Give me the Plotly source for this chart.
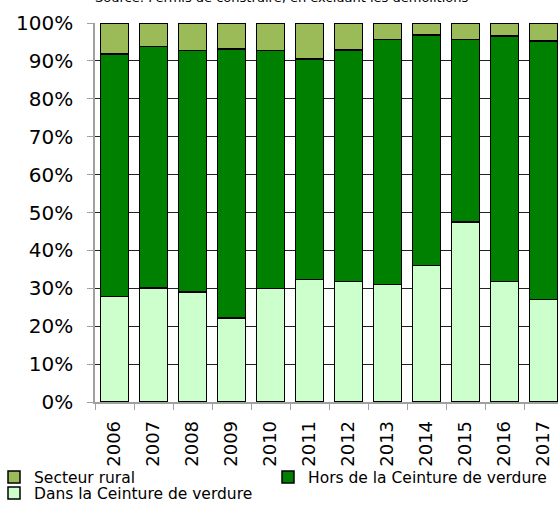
import plotly.graph_objects as go

years = ["2006", "2007", "2008", "2009", "2010", "2011", "2012", "2013", "2014", "2015", "2016", "2017"]
dans = [27.9, 30.1, 29.0, 22.2, 30.0, 32.3, 31.8, 31.0, 36.0, 47.5, 31.8, 27.0]
hors = [63.9, 63.7, 63.7, 70.9, 62.8, 58.2, 61.1, 64.6, 60.8, 48.1, 64.8, 68.2]
rural = [8.2, 6.2, 7.3, 6.9, 7.2, 9.5, 7.1, 4.4, 3.2, 4.4, 3.4, 4.8]

names = ["Dans la Ceinture de verdure", "Hors de la Ceinture de verdure", "Secteur rural"]
colors = ["#CCFFCC", "#008000", "#9BBB59"]
legend_ids = ["legend2", "legend3", "legend"]
title_text = "Source: Permis de construire, en excluant les démolitions"

FONT = "DejaVu Sans"
W, H = 558, 506
left, top, plot_bottom = 95, 23.3, 401.7
plot_w = W - left
plot_h = plot_bottom - top
cat_px = 39  # pixel width of one category slot

fig = go.Figure()
for vals, name, col, lg in zip([dans, hors, rural], names, colors, legend_ids):
    fig.add_trace(go.Bar(
        x=years, y=vals, name=name, legend=lg,
        marker=dict(color=col, line=dict(color="black", width=1.5)),
    ))

legend_common = dict(
    orientation="h",
    xref="paper", yref="paper",
    xanchor="left", yanchor="middle",
    font=dict(size=15.5, family=FONT),
    itemwidth=30, tracegroupgap=0,
    bgcolor="rgba(0,0,0,0)",
)

fig.update_layout(
    width=W, height=H,
    barmode="stack", bargap=0.28,
    margin=dict(l=left, r=0, t=top, b=H - plot_bottom, pad=0, autoexpand=False),
    plot_bgcolor="white", paper_bgcolor="white",
    font=dict(family=FONT, color="black"),
    showlegend=True,
    legend=dict(legend_common, x=(-6 - left) / plot_w, y=(plot_bottom - 477) / plot_h),
    legend2=dict(legend_common, x=(-6 - left) / plot_w, y=(plot_bottom - 493) / plot_h),
    legend3=dict(legend_common, x=(268 - left) / plot_w, y=(plot_bottom - 477) / plot_h),
    annotations=[dict(
        text=title_text, xref="paper", yref="paper",
        x=(281 - left) / plot_w, y=1, yshift=top + 2.5,
        xanchor="center", yanchor="middle", showarrow=False,
        font=dict(size=13, family=FONT, color="black"),
    )],
)

fig.update_xaxes(
    type="category", range=[-0.5, -0.5 + plot_w / cat_px],
    tickangle=-90, tickfont=dict(size=18, family=FONT),
    showline=True, linecolor="#a0a0a0", linewidth=1.5,
    ticks="outside", tickson="boundaries", ticklen=6, tickcolor="#a0a0a0",
    ticklabelstandoff=10,
    showgrid=False,
)
fig.update_yaxes(
    range=[0, 100], dtick=10, ticksuffix="%",
    tickfont=dict(size=20, family=FONT),
    showline=True, linecolor="#a0a0a0", linewidth=1.5,
    ticks="outside", ticklen=6, tickcolor="#a0a0a0",
    ticklabelstandoff=10,
    showgrid=True, gridcolor="#222222", gridwidth=1,
    zeroline=False,
)

fig.write_html(
    "out.html",
    config={"displayModeBar": False},
    post_script="document.body.style.margin='0';document.body.style.overflow='hidden';",
)
